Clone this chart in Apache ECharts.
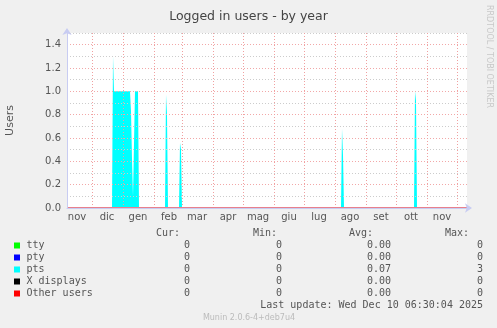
<!DOCTYPE html>
<html>
<head>
<meta charset="utf-8">
<script src="https://cdn.jsdelivr.net/npm/echarts@6/dist/echarts.min.js"></script>
<style>
html,body{margin:0;padding:0;background:#f0f0f0;}
#chart{width:497px;height:328px;}
</style>
</head>
<body>
<div id="chart"></div>
<script>
// ---- data ----
const rangeStart = '2024-11-06';
const rangeEnd = '2025-12-11';
const monthStarts = ['2024-11-01','2024-12-01','2025-01-01','2025-02-01','2025-03-01','2025-04-01','2025-05-01','2025-06-01','2025-07-01','2025-08-01','2025-09-01','2025-10-01','2025-11-01','2025-12-01'];
const monthLabels = ['nov','dic','gen','feb','mar','apr','mag','giu','lug','ago','set','ott','nov','dic'];
const ptsDates = ['2024-11-06','2024-12-21','2024-12-22','2024-12-23','2025-01-08','2025-01-09','2025-01-10','2025-01-11','2025-01-12','2025-01-13','2025-01-16','2025-01-17','2025-02-12','2025-02-13','2025-02-14','2025-02-15','2025-02-26','2025-02-27','2025-02-28','2025-03-01','2025-08-07','2025-08-08','2025-08-09','2025-08-10','2025-10-19','2025-10-20','2025-10-21','2025-10-22','2025-12-11'];
const ptsValues = [0,0,1.3,1.0,1.0,0.83,0.42,0.1,0.55,1.0,1.0,0,0,0.97,0.8,0,0,0.56,0.5,0,0,0.68,0.45,0,0,1.0,0.92,0,0];
const yTicks = [0,0.1,0.2,0.3,0.4,0.5,0.6,0.7,0.8,0.9,1.0,1.1,1.2,1.3,1.4,1.5];

const legendNames = ['tty','pty','pts','X displays','Other users'];
const legendColors = ['#00ff00','#0000ff','#00ffff','#000000','#ff0000'];
const curVals = ['0','0','0','0','0'];
const minVals = ['0','0','0','0','0'];
const avgVals = ['0.00','0.00','0.07','0.00','0.00'];
const maxVals = ['0','0','3','0','0'];
const headers = ['Cur:','Min:','Avg:','Max:'];
const lastUpdate = 'Last update: Wed Dec 10 06:30:04 2025';
const footer = 'Munin 2.0.6-4+deb7u4';
const sideText = 'RRDTOOL / TOBI OETIKER';

// ---- helpers ----
function ts(s){const p=s.split('-').map(Number);return new Date(p[0],p[1]-1,p[2]).getTime();}
const startTs = monthStarts.map(ts);
const midTs = startTs.map(t => t + 15*86400000);
const ptsData = ptsDates.map((d,i)=>[ts(d), ptsValues[i]]);

const MONO = "'DejaVu Sans Mono', monospace";
const SANS = "'DejaVu Sans', sans-serif";
const TXT = '#555';

const graphics = [];
const headerX = [180,277,373,469];
const colX = [190,282,391,483];
headers.forEach((h,i)=>graphics.push({type:'text',x:headerX[i],y:233.5,style:{text:h,font:'10px '+MONO,fill:TXT,textAlign:'right',textVerticalAlign:'middle'}}));
const cols = [curVals,minVals,avgVals,maxVals];
legendNames.forEach((n,i)=>{
  const y = 245.5 + 12*i;
  graphics.push({type:'rect',shape:{x:14,y:y-3,width:6,height:6},style:{fill:legendColors[i]}});
  graphics.push({type:'text',x:26.5,y:y,style:{text:n,font:'10px '+MONO,fill:TXT,textAlign:'left',textVerticalAlign:'middle'}});
  cols.forEach((c,j)=>graphics.push({type:'text',x:colX[j],y:y,style:{text:c[i],font:'10px '+MONO,fill:TXT,textAlign:'right',textVerticalAlign:'middle'}}));
});
graphics.push({type:'text',x:483,y:305.7,style:{text:lastUpdate,font:'10px '+MONO,fill:TXT,textAlign:'right',textVerticalAlign:'middle'}});
graphics.push({type:'text',x:249,y:317.5,style:{text:footer,font:'8px '+SANS,fill:'#bbbbbb',textAlign:'center',textVerticalAlign:'middle'}});
graphics.push({type:'text',x:489,y:5,rotation:-Math.PI/2,style:{text:sideText,font:'8px '+SANS,fill:'#c8c8c8',textAlign:'left',textVerticalAlign:'middle'}});

const chart = echarts.init(document.getElementById('chart'), null, {renderer:'canvas'});
chart.setOption({
  backgroundColor:'#f0f0f0',
  animation:false,
  title:{text:'Logged in users - by year',left:'center',top:5,textStyle:{fontFamily:SANS,fontSize:12.5,fontWeight:'normal',color:'#444'}},
  grid:{left:67,top:33,width:400,height:175,show:true,backgroundColor:'#ffffff',borderWidth:0,outerBoundsMode:'none',containLabel:false},
  xAxis:{
    type:'value', min:ts(rangeStart), max:ts(rangeEnd), z:5,
    axisLine:{show:true,lineStyle:{color:'#c8ccf2',width:1},symbol:['none','arrow'],symbolSize:[7,7],symbolOffset:[0,5]},
    axisTick:{show:false,customValues:startTs},
    axisLabel:{customValues:midTs,margin:4,color:TXT,fontFamily:SANS,fontSize:10,
      formatter:function(v){const i=midTs.indexOf(v);return i>=0?monthLabels[i]:'';}},
    splitLine:{show:true,lineStyle:{color:'#f0a0a0',type:[1,2],width:1}}
  },
  yAxis:{
    type:'value', min:0, max:1.5, z:5,
    name:'Users', nameLocation:'middle', nameGap:51, nameRotate:90,
    nameTextStyle:{fontFamily:SANS,fontSize:11,color:TXT},
    axisLine:{show:true,lineStyle:{color:'#c8ccf2',width:1},symbol:['none','arrow'],symbolSize:[7,7],symbolOffset:[0,5]},
    axisTick:{show:false,customValues:yTicks},
    axisLabel:{customValues:yTicks,margin:6,color:TXT,fontFamily:SANS,fontSize:10,
      formatter:function(v){const k=Math.round(v*10);return (k%2===0 && k<15)?(k/10).toFixed(1):'';}},
    splitLine:{show:true,lineStyle:{color:['#f2a8a8','#cccccc'],type:[1,2],width:1}}
  },
  series:[{
    name:'pts', type:'line', data:ptsData, showSymbol:false, smooth:false,
    lineStyle:{width:0}, itemStyle:{color:'#00ffff'},
    areaStyle:{color:'#00ffff',opacity:1},
    markLine:{silent:true,symbol:'none',label:{show:false},data:[{yAxis:0}],lineStyle:{color:'#e8808c',width:2,type:'solid'}}
  }],
  graphic:graphics
});
</script>
</body>
</html>
